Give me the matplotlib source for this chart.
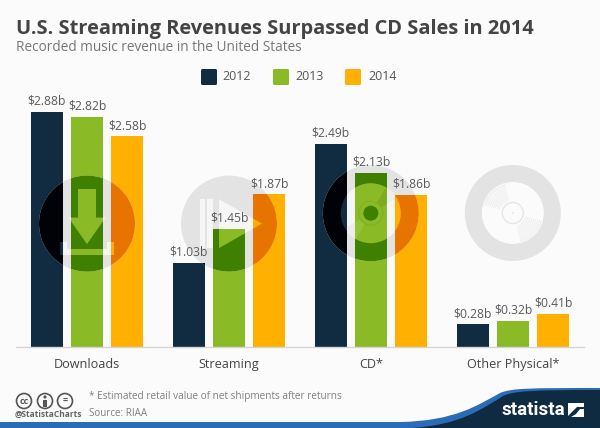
import matplotlib
matplotlib.use("Agg")
import matplotlib.pyplot as plt
from matplotlib.patches import Circle, Polygon, Rectangle, PathPatch, Wedge, FancyBboxPatch
from matplotlib.path import Path
from matplotlib.transforms import Affine2D
import numpy as np

categories = ["Downloads", "Streaming", "CD*", "Other Physical*"]
years = ["2012", "2013", "2014"]
v2012 = [2.88, 1.03, 2.49, 0.28]
v2013 = [2.82, 1.45, 2.13, 0.32]
v2014 = [2.58, 1.87, 1.86, 0.41]
series = [v2012, v2013, v2014]
colors = ["#112b40", "#8aba26", "#ffb000"]
darks = ["#000208", "#408000", "#e87400"]

W, H = 600, 428
BG = "#fbfbfb"
GRAY = "#e3e3e3"
TXT = "#5a5a5a"
plt.rcParams["font.family"] = "Open Sans"

fig = plt.figure(figsize=(W / 100, H / 100), dpi=100, facecolor=BG)
px = Affine2D().scale(1, -1).translate(0, H)  # pixel coords with y down
rect = [16 / W, (H - 347.3) / H, 568 / W, 252.3 / H]
ax = fig.add_axes(rect)
ax.set_facecolor("none")
ax.set_xlim(-0.5, 3.5)
ax.set_ylim(0, 252.3 / 81.8)
for s in ["top", "left", "right"]:
    ax.spines[s].set_visible(False)
ax.spines["bottom"].set_color("#d5d5d5")
ax.spines["bottom"].set_linewidth(1)
ax.set_yticks([])
ax.set_xticks(range(4))
ax.set_xticklabels(categories, fontsize=9.1, color="#444444")
ax.tick_params(axis="x", length=0, pad=8)

# transparent axes on top, so the value labels sit above the icons
top = fig.add_axes(rect, zorder=10)
top.patch.set_visible(False)
top.axis("off")
top.set_xlim(ax.get_xlim())
top.set_ylim(ax.get_ylim())

step, bw = 40.2 / 142, 32.4 / 142
bars = []
for i, (vals, c) in enumerate(zip(series, colors)):
    xs = np.arange(4) + (i - 1) * step
    bc = ax.bar(xs, vals, width=bw, color=c, zorder=2, linewidth=0)
    bars.append(bc)
    for x, v in zip(xs, vals):
        top.annotate(f"${v:.2f}b", (x, v), xytext=(0, 3), textcoords="offset points",
                     ha="center", va="bottom", fontsize=8.7, color=TXT, annotation_clip=False)


def add(art, z, clip=None):
    art.set_transform(px)
    art.set_zorder(z)
    fig.add_artist(art)
    if clip is not None:
        art.set_clip_path(clip)
    return art


def download(cx, cy, col):
    return [Rectangle((cx - 9, cy - 35), 18, 29, fc=col, ec="none"),
            Polygon([(cx - 18.5, cy - 6), (cx + 18.5, cy - 6), (cx, cy + 20.5)], fc=col, ec="none"),
            Polygon([(cx - 27, cy + 18), (cx - 20, cy + 18), (cx - 20, cy + 25), (cx + 20, cy + 25),
                     (cx + 20, cy + 18), (cx + 27, cy + 18), (cx + 27, cy + 31), (cx - 27, cy + 31)],
                    fc=col, ec="none")]


def play(cx, cy, col):
    return [Rectangle((cx - 29, cy - 24.5), 5, 49, fc=col, ec="none"),
            Rectangle((cx - 22, cy - 24.5), 6, 49, fc=col, ec="none"),
            Polygon([(cx - 10, cy - 24.5), (cx + 33, cy), (cx - 10, cy + 24.5)], fc=col, ec="none")]


def disc(cx, cy, col):
    return [Circle((cx, cy), 30, fc=col, ec="none")]


def draw_icon(cx, cy, maker):
    R = 48
    add(Circle((cx, cy), R, fc=GRAY, ec="none"), 1)
    for p in maker(cx, cy, "#f6f6f6"):
        add(p, 1.1)
    for bc, dk, col in zip(bars, darks, colors):
        for b in bc:
            add(Circle((cx, cy), R, fc=dk, ec="none"), 3, clip=b)
            for p in maker(cx, cy, col):
                add(p, 3.1, clip=b)


draw_icon(87, 223.6, download)
draw_icon(229, 223.6, play)
cdx, cdy = 370.8, 213.2
draw_icon(cdx, cdy, disc)
# CD reflections and hub
add(Wedge((cdx, cdy), 30, 120, 150, fc="#ededed", ec="none"), 1.2)
add(Wedge((cdx, cdy), 30, 300, 330, fc="#ededed", ec="none"), 1.2)
add(Wedge((cdx, cdy), 30, 300, 330, fc="#7dac20", ec="none"), 3.2, clip=bars[1][2])
add(Wedge((cdx, cdy), 30, 120, 150, fc="#95c338", ec="none"), 3.2, clip=bars[1][2])
add(Circle((cdx, cdy), 12, fc=colors[1], ec="#7fae22", lw=0.8), 3.3, clip=bars[1][2])
add(Circle((cdx, cdy), 7.5, fc="#408000", ec="none"), 3.4, clip=bars[1][2])

# Vinyl
cx, cy = 512.8, 213
add(Circle((cx, cy), 48, fc=GRAY, ec="none"), 1)
add(Circle((cx, cy), 31, fc=BG, ec="none"), 1.1)
add(Circle((cx, cy), 10.5, fc="none", ec="#e6e6e6", lw=1), 1.2)
add(Circle((cx, cy), 0.8, fc="#e0e0e0", ec="none"), 1.2)
for r in [14, 16, 18, 20, 22, 24, 26, 28, 29.5]:
    for t1, t2 in [(195, 255), (15, 75)]:
        arc = Path.arc(t1, t2)
        arc = Path(arc.vertices * r + [cx, cy], arc.codes)
        add(PathPatch(arc, fc="none", ec="#ececec", lw=0.6), 1.2)

# Titles
fig.text(16 / W, 1 - 29 / H, "U.S. Streaming Revenues Surpassed CD Sales in 2014", fontsize=14.4,
         fontweight="bold", color="#444444", va="center", ha="left")
fig.text(16 / W, 1 - 47.5 / H, "Recorded music revenue in the United States", fontsize=9.85, color="#777777",
         va="center", ha="left")

# Legend
for lx, tx, yr, c in zip([201, 273, 345], [222, 295, 368], years, colors):
    add(FancyBboxPatch((lx + 1, 70), 14, 14, boxstyle="round,pad=1,rounding_size=1.5", fc=c, ec="none"), 5)
    fig.text(tx / W, 1 - 77 / H, yr, fontsize=8.9, color="#555555", va="center", ha="left")

# Footer
fig.text(89 / W, 1 - 397 / H, "* Estimated retail value of net shipments after returns", fontsize=7.2,
         color="#808080", va="center", ha="left")
fig.text(89 / W, 1 - 413.5 / H, "Source: RIAA", fontsize=7.1, color="#808080", va="center", ha="left")
fig.text(15 / W, 1 - 414 / H, "@StatistaCharts", fontsize=6, fontweight="bold", color="#666666",
         va="center", ha="left")
for ccx, t in zip([24, 45, 65], ["cc", "", "="]):
    add(Circle((ccx, 401), 7.5, fc="none", ec="#555555", lw=1.2), 5)
    if t:
        fig.text(ccx / W, 1 - 401 / H, t, fontsize=6.5, fontweight="bold", color="#555555", ha="center", va="center")
add(Circle((45, 397), 1.6, fc="#555555", ec="none"), 5)
add(Rectangle((43, 399.5), 4, 7, fc="#555555", ec="none"), 5)

blue = Path([(0, 428), (0, 422), (400, 422), (455, 421), (478, 405), (500, 393), (512, 388), (530, 388), (600, 388),
             (600, 428), (0, 428)],
            [Path.MOVETO, Path.LINETO, Path.LINETO, Path.CURVE4, Path.CURVE4, Path.CURVE4, Path.CURVE4, Path.CURVE4,
             Path.LINETO, Path.LINETO, Path.CLOSEPOLY])
add(PathPatch(blue, fc="#2b6cb8", ec="none"), 4)
navy = Path([(412, 428), (460, 425), (482, 409), (503, 396), (514, 391), (530, 390), (600, 390), (600, 428), (412, 428)],
            [Path.MOVETO, Path.CURVE4, Path.CURVE4, Path.CURVE4, Path.CURVE4, Path.CURVE4, Path.LINETO, Path.LINETO,
             Path.CLOSEPOLY])
add(PathPatch(navy, fc="#0f2b42", ec="none"), 4.5)
fig.text(502 / W, 1 - 410 / H, "statista", fontsize=13.5, fontweight="bold", family="Roboto", color="white",
         va="center", ha="left", zorder=6)
add(Polygon([(568, 403), (584, 403), (584, 407), (577, 407), (571, 413), (568, 416)], fc="white", ec="none"), 6)
add(Polygon([(584, 409), (584, 417), (571, 417), (576, 414), (580, 409)], fc="white", ec="none"), 6)

fig.savefig("out.png", dpi=100, facecolor=BG)
